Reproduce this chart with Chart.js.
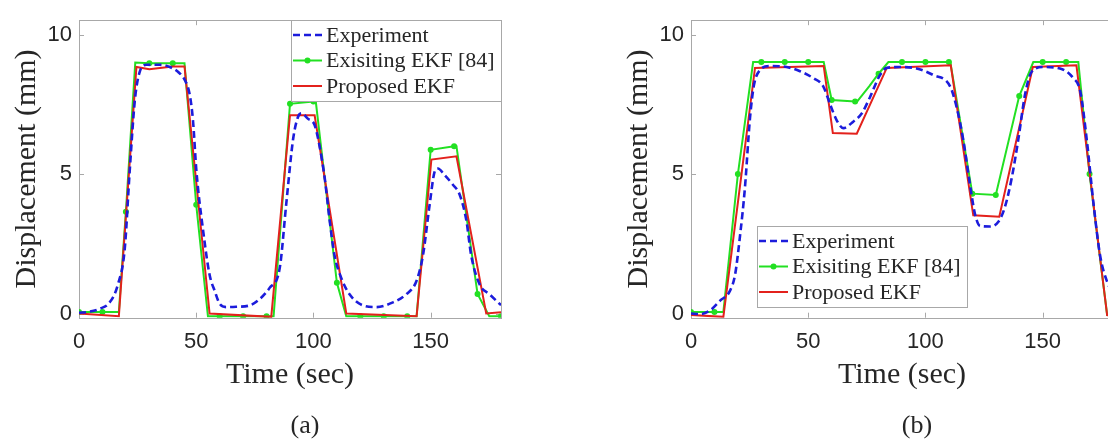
<!DOCTYPE html>
<html>
<head>
<meta charset="utf-8">
<script src="https://cdn.jsdelivr.net/npm/chart.js@4.4.1/dist/chart.umd.min.js"></script>
<style>
  html, body { margin: 0; padding: 0; background: #fff; overflow: hidden; }
  body { width: 1108px; height: 440px; position: relative; }
  canvas { position: absolute; top: 0; }
  #chartA { left: 0; }
  #chartB { left: 612px; }
</style>
</head>
<body>
<canvas id="chartA" width="554" height="440"></canvas>
<canvas id="chartB" width="554" height="440"></canvas>
<script>
// axis ticks and labels
const xTicks = [0, 50, 100, 150];
const yTicks = [0, 5, 10];
const seriesNames = ['Experiment', 'Exisiting EKF [84]', 'Proposed EKF'];

// (a) experiment
const aExpTime = [0, 4, 8.8, 13.1, 16.6, 19.5, 21.6, 23.8, 25.9, 28.7, 34.4, 38.7, 42.2, 45.1, 47.2, 48.6, 50.1, 52.9, 55.7, 57.9, 60, 62.9, 67, 72.8, 77.1, 81.3, 85.6, 88.4, 91.3, 93.4, 95, 97.6, 100.5, 102.6, 104.8, 106.9, 109, 111.9, 115.4, 121.1, 126.8, 133.9, 139.6, 143.9, 146.7, 149.6, 151.7, 153.1, 155.9, 159.5, 162.3, 165.2, 167.3, 170.9, 175.1, 180];
const aExpDisp = [0.03, 0.06, 0.17, 0.4, 1.04, 2.31, 5.08, 7.63, 8.67, 8.92, 8.92, 8.84, 8.67, 8.38, 7.86, 6.94, 5.09, 3.0, 1.39, 0.81, 0.35, 0.23, 0.24, 0.29, 0.52, 0.92, 1.62, 3.93, 6.24, 7.05, 7.18, 6.99, 6.76, 6.01, 4.86, 3.35, 2.08, 1.27, 0.69, 0.29, 0.23, 0.4, 0.69, 1.16, 2.08, 3.93, 5.09, 5.2, 4.97, 4.62, 4.28, 3.35, 2.08, 1.04, 0.69, 0.3];
// (a) existing EKF
const aOldTime = [0, 10, 17, 20, 24, 30, 40, 45, 50, 55, 60, 70, 80, 83, 90, 100, 101, 110, 114, 120, 130, 140, 144, 150, 160, 161, 170, 175, 180];
const aOldDisp = [0.05, 0.05, 0.05, 3.65, 9.0, 8.98, 8.98, 8.98, 3.9, -0.1, -0.1, -0.1, -0.1, -0.1, 7.52, 7.6, 7.6, 1.1, -0.1, -0.1, -0.1, -0.1, -0.1, 5.87, 6.0, 6.0, 0.7, -0.1, -0.1];
// (a) proposed EKF
const aNewTime = [0, 17, 24.5, 30, 40, 45, 55.7, 82, 90, 100.5, 114, 144, 150.3, 161, 173.7, 180];
const aNewDisp = [0.0, -0.1, 8.84, 8.76, 8.86, 8.86, 0.0, -0.12, 7.11, 7.11, 0.0, -0.1, 5.52, 5.64, 0.0, 0.05];

// (b) experiment
const bExpTime = [0, 3.8, 8.1, 12.4, 16.6, 18.8, 20.9, 23, 25.2, 26.9, 29.4, 33.7, 40.8, 46.5, 52.2, 56.4, 59.3, 62.1, 65, 69.2, 72.8, 76.3, 80.6, 83.5, 89, 96.2, 103.4, 110.5, 113.3, 116.1, 119, 121.1, 123.3, 127.5, 131.1, 133.9, 136.8, 139.6, 142.5, 145.3, 150.3, 157.4, 163.1, 166, 168.8, 171.7, 174.5, 177.4, 180];
const bExpDisp = [0.0, -0.02, 0.11, 0.46, 0.81, 1.39, 2.78, 4.51, 7.05, 8.21, 8.73, 8.88, 8.84, 8.69, 8.44, 8.15, 7.51, 6.94, 6.65, 6.88, 7.17, 7.75, 8.55, 8.81, 8.84, 8.79, 8.55, 8.15, 7.4, 6.24, 4.62, 3.58, 3.14, 3.12, 3.29, 3.82, 4.86, 6.24, 7.86, 8.67, 8.84, 8.79, 8.44, 7.98, 6.24, 3.93, 2.08, 1.16, 0.7];
// (b) existing EKF
const bOldTime = [0, 10, 13.8, 20, 26.5, 30, 40, 50, 56.6, 60, 70, 71, 76, 80, 84.2, 90, 100, 110, 110.6, 120, 130, 140, 146, 150, 160, 165.2, 170, 177.5, 180];
const bOldDisp = [0.05, 0.05, 0.05, 5.0, 9.02, 9.02, 9.02, 9.02, 9.02, 7.66, 7.6, 7.62, 8.15, 8.6, 9.02, 9.02, 9.02, 9.02, 9.02, 4.3, 4.25, 7.8, 9.02, 9.02, 9.02, 9.02, 5.0, -0.05, -0.05];
// (b) proposed EKF
const bNewTime = [0, 13.8, 27.3, 56.6, 60.5, 70.7, 83.5, 110.8, 120.4, 131.5, 145.8, 164.4, 177.5, 180];
const bNewDisp = [-0.05, -0.12, 8.81, 8.88, 6.47, 6.45, 8.81, 8.9, 3.52, 3.47, 8.84, 8.9, -0.06, -0.1];

const toPoints = (t, v) => t.map((x, i) => ({x: x, y: v[i]}));

const axisColor = '#a8a8a8';
const textColor = '#262626';

// box around the axes with inward ticks, like the original figure
const axesFrame = {
    id: 'axesFrame',
    beforeDatasetsDraw(chart) {
        const {ctx, chartArea: a, scales} = chart;
        ctx.save();
        ctx.strokeStyle = axisColor;
        ctx.lineWidth = 1;
        ctx.strokeRect(Math.round(a.left) + 0.5, Math.round(a.top) + 0.5, Math.round(a.right - a.left), Math.round(a.bottom - a.top));
        ctx.beginPath();
        xTicks.forEach(v => {
            const px = Math.round(scales.x.getPixelForValue(v)) + 0.5;
            ctx.moveTo(px, a.bottom); ctx.lineTo(px, a.bottom - 5);
            ctx.moveTo(px, a.top); ctx.lineTo(px, a.top + 5);
        });
        yTicks.forEach(v => {
            const py = Math.round(scales.y.getPixelForValue(v)) + 0.5;
            ctx.moveTo(a.left, py); ctx.lineTo(a.left + 5, py);
            ctx.moveTo(a.right, py); ctx.lineTo(a.right - 5, py);
        });
        ctx.stroke();
        ctx.restore();
    }
};

// boxed legend inside the axes
const boxLegend = {
    id: 'boxLegend',
    afterDatasetsDraw(chart, args, opts) {
        const {ctx, chartArea: a} = chart;
        const sets = chart.data.datasets;
        ctx.save();
        ctx.font = '22px "Liberation Serif", "Times New Roman", serif';
        const rowH = 25.5, sample = 29;
        const textW = Math.max(...sets.map(d => ctx.measureText(d.label).width));
        const w = Math.round(2 + sample + 4 + textW + 6);
        const h = Math.round(rowH * sets.length + 4);
        let x0, y0;
        if (opts.anchor === 'ne') {
            x0 = Math.round(a.right - w - opts.dx);
            y0 = Math.round(a.top + opts.dy);
        } else {
            x0 = Math.round(a.left + opts.dx);
            y0 = Math.round(a.bottom - opts.dy - h);
        }
        ctx.fillStyle = '#fff';
        ctx.fillRect(x0, y0, w, h);
        ctx.strokeStyle = axisColor;
        ctx.lineWidth = 1;
        ctx.strokeRect(x0 + 0.5, y0 + 0.5, w, h);
        sets.forEach((ds, i) => {
            const cy = y0 + 15 + i * rowH;
            ctx.strokeStyle = ds.borderColor;
            ctx.lineWidth = ds.borderWidth;
            ctx.setLineDash(ds.borderDash || []);
            ctx.beginPath();
            ctx.moveTo(x0 + 2, cy);
            ctx.lineTo(x0 + 2 + sample, cy);
            ctx.stroke();
            ctx.setLineDash([]);
            if (ds.showMarker) {
                ctx.fillStyle = ds.borderColor;
                ctx.beginPath();
                ctx.arc(x0 + 2 + sample / 2, cy, 3, 0, Math.PI * 2);
                ctx.fill();
            }
            ctx.fillStyle = textColor;
            ctx.textBaseline = 'middle';
            ctx.fillText(ds.label, x0 + 2 + sample + 4, cy + 1);
        });
        ctx.restore();
    }
};

// sub-figure caption (a) / (b)
const caption = {
    id: 'caption',
    afterDraw(chart, args, opts) {
        const {ctx, chartArea: a} = chart;
        ctx.save();
        ctx.font = '26px "Liberation Serif", "Times New Roman", serif';
        ctx.fillStyle = textColor;
        ctx.textAlign = 'center';
        ctx.textBaseline = 'middle';
        ctx.fillText(opts.text, (a.left + a.right) / 2 + 15, 426);
        ctx.restore();
    }
};

function makeChart(id, exp, oldEkf, newEkf, captionText, legendPos) {
    const ctx = document.getElementById(id).getContext('2d');
    return new Chart(ctx, {
        type: 'line',
        data: {
            datasets: [{
                label: seriesNames[0],
                data: exp,
                borderColor: '#1c1cdc',
                borderWidth: 2.6,
                borderDash: [7, 4],
                pointRadius: 0,
                cubicInterpolationMode: 'monotone',
                order: 0
            }, {
                label: seriesNames[1],
                data: oldEkf,
                borderColor: '#22e022',
                backgroundColor: '#22e022',
                borderWidth: 2,
                showMarker: true,
                pointRadius: c => (c.raw && c.raw.x % 10 === 0) ? 3 : 0,
                pointBorderWidth: 0,
                order: 2
            }, {
                label: seriesNames[2],
                data: newEkf,
                borderColor: '#e3211c',
                borderWidth: 2,
                pointRadius: 0,
                order: 1
            }]
        },
        options: {
            responsive: false,
            animation: false,
            devicePixelRatio: 1,
            layout: { padding: { top: 10, right: 53, bottom: 0, left: 0 } },
            plugins: {
                legend: { display: false },
                tooltip: { enabled: false },
                boxLegend: legendPos,
                caption: { text: captionText }
            },
            scales: {
                x: {
                    type: 'linear',
                    min: 0,
                    max: 180,
                    afterBuildTicks: s => { s.ticks = xTicks.map(v => ({value: v})); },
                    afterFit: s => { s.height = 122.3; },
                    grid: { display: false, drawTicks: false },
                    border: { display: false },
                    ticks: {
                        padding: 11,
                        color: textColor,
                        font: { family: '"Liberation Sans", Arial, sans-serif', size: 22 }
                    },
                    title: {
                        display: true,
                        text: 'Time (sec)',
                        color: textColor,
                        padding: { top: 0, bottom: 47 },
                        font: { family: '"Liberation Serif", "Times New Roman", serif', size: 30 }
                    }
                },
                y: {
                    min: -0.15,
                    max: 10.52,
                    afterBuildTicks: s => { s.ticks = yTicks.map(v => ({value: v})); },
                    afterFit: s => { s.width = 79; },
                    grid: { display: false, drawTicks: false },
                    border: { display: false },
                    ticks: {
                        padding: 7,
                        color: textColor,
                        font: { family: '"Liberation Sans", Arial, sans-serif', size: 22 }
                    },
                    title: {
                        display: true,
                        text: 'Displacement (mm)',
                        color: textColor,
                        padding: { top: 9, bottom: 0 },
                        font: { family: '"Liberation Serif", "Times New Roman", serif', size: 30 }
                    }
                }
            }
        },
        plugins: [axesFrame, boxLegend, caption]
    });
}

makeChart('chartA',
    toPoints(aExpTime, aExpDisp), toPoints(aOldTime, aOldDisp), toPoints(aNewTime, aNewDisp),
    '(a)', { anchor: 'ne', dx: 0, dy: 0 });
makeChart('chartB',
    toPoints(bExpTime, bExpDisp), toPoints(bOldTime, bOldDisp), toPoints(bNewTime, bNewDisp),
    '(b)', { anchor: 'sw', dx: 66, dy: 11 });
</script>
</body>
</html>
